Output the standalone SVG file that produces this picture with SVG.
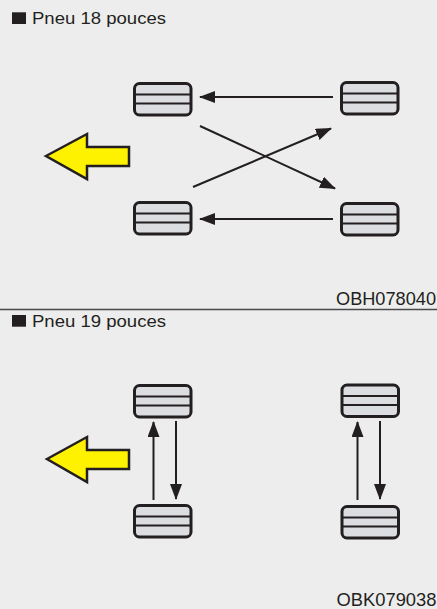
<svg xmlns="http://www.w3.org/2000/svg" xmlns:xlink="http://www.w3.org/1999/xlink" width="437" height="609" viewBox="0 0 437 609">
  <style>
    .title { font-family: "Liberation Sans", Arial, sans-serif; font-size: 16.5px; fill: #231f20; }
    .code { font-family: "Liberation Sans", Arial, sans-serif; font-size: 18.5px; fill: #231f20; }
    .conn { stroke: #231f20; stroke-width: 2; fill: none; marker-end: url(#ah); }
    .big { fill: #fff200; stroke: #231f20; stroke-width: 2.5; stroke-linejoin: miter; }
    .tire-body { fill: #dcdde0; stroke: #231f20; stroke-width: 3; }
    .tire-line { stroke: #231f20; stroke-width: 2; }
  </style>
  <defs>
    <marker id="ah" markerUnits="userSpaceOnUse" markerWidth="17" markerHeight="13" refX="15" refY="6" orient="auto">
      <path d="M0,0 L16,6 L0,12 z" fill="#231f20"/>
    </marker>
    <g id="tire">
      <rect class="tire-body" x="1.5" y="1.5" width="56.5" height="31.5" rx="5"/>
      <line class="tire-line" x1="1.5" y1="12.5" x2="58" y2="12.5"/>
      <line class="tire-line" x1="1.5" y1="21.5" x2="58" y2="21.5"/>
    </g>
  </defs>
  <rect x="0" y="0" width="437" height="609" fill="#ededed"/>

  <!-- Section 1 -->
  <g id="title18">
    <rect x="12" y="12.3" width="14" height="11.7" fill="#231f20"/>
    <text class="title" x="32" y="24" textLength="134" lengthAdjust="spacingAndGlyphs">Pneu 18 pouces</text>
  </g>
  <g id="dir18"><polygon class="big" points="46,156 87,134 87,147 129,147 129,166 87,166 87,179"/></g>
  <g id="t18-fl"><use xlink:href="#tire" href="#tire" x="133" y="82"/></g>
  <g id="t18-fr"><use xlink:href="#tire" href="#tire" x="340" y="81"/></g>
  <g id="t18-rl"><use xlink:href="#tire" href="#tire" x="133" y="201"/></g>
  <g id="t18-rr"><use xlink:href="#tire" href="#tire" x="340" y="202"/></g>
  <g id="code18"><text class="code" x="436" y="305" text-anchor="end" textLength="100" lengthAdjust="spacingAndGlyphs">OBH078040</text></g>

  <line x1="0" y1="309.5" x2="437" y2="309.5" stroke="#4a4a4a" stroke-width="1.3"/>

  <!-- Section 2 -->
  <g id="title19">
    <rect x="12" y="315" width="14" height="11.7" fill="#231f20"/>
    <text class="title" x="32" y="326.7" textLength="134" lengthAdjust="spacingAndGlyphs">Pneu 19 pouces</text>
  </g>
  <g id="dir19"><polygon class="big" points="47,459 87,437 87,450 129,450 129,469 87,469 87,482"/></g>
  <g id="t19-lf"><use xlink:href="#tire" href="#tire" x="133" y="384"/></g>
  <g id="t19-lr"><use xlink:href="#tire" href="#tire" x="133" y="504"/></g>
  <g id="t19-rf"><use xlink:href="#tire" href="#tire" x="340.5" y="383.5"/></g>
  <g id="t19-rr"><use xlink:href="#tire" href="#tire" x="340.5" y="505"/></g>
  <g id="code19"><text class="code" x="436.5" y="606" text-anchor="end" textLength="100" lengthAdjust="spacingAndGlyphs">OBK079038</text></g>

  <!-- Connectors -->
  <g id="connectors">
    <line class="conn" x1="333" y1="97" x2="200" y2="97"/>
    <line class="conn" x1="333" y1="219" x2="200" y2="219"/>
    <line class="conn" x1="200" y1="126" x2="335" y2="188.5"/>
    <line class="conn" x1="193" y1="187" x2="331" y2="128.5"/>
    <line class="conn" x1="153.5" y1="500" x2="153.5" y2="422"/>
    <line class="conn" x1="176" y1="421" x2="176" y2="499"/>
    <line class="conn" x1="357.5" y1="500" x2="357.5" y2="422"/>
    <line class="conn" x1="380" y1="421" x2="380" y2="499"/>
  </g>
</svg>
